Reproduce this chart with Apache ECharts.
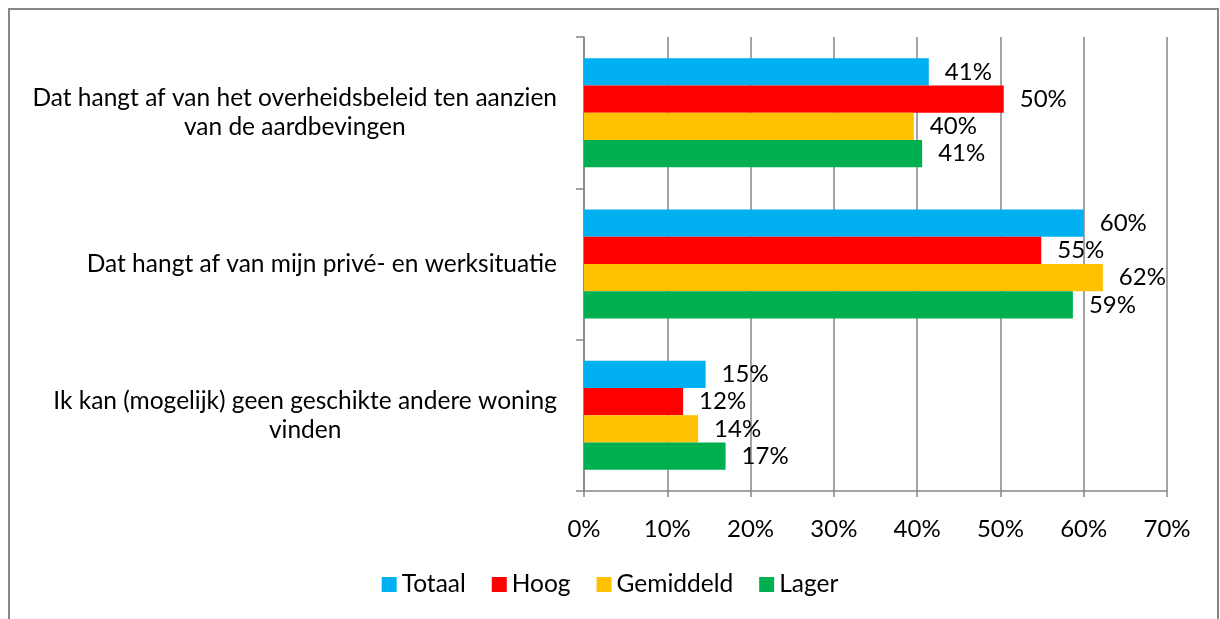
<!DOCTYPE html>
<html>
<head>
<meta charset="utf-8">
<script src="https://cdn.jsdelivr.net/npm/echarts@6/dist/echarts.min.js"></script>
<style>
  html, body { margin: 0; padding: 0; background: #fff; }
  #main { width: 1220px; height: 619px; }
</style>
</head>
<body>
<div id="main"></div>
<script>
// categories (top to bottom)
const categories = [
  'Dat hangt af van het overheidsbeleid ten aanzien\nvan de aardbevingen',
  'Dat hangt af van mijn privé- en werksituatie',
  'Ik kan (mogelijk) geen geschikte andere woning\nvinden'
]
const seriesNames = ['Totaal', 'Hoog', 'Gemiddeld', 'Lager']
const seriesColors = ['#00B0F0', '#FF0000', '#FFC000', '#00B050']

// percentages per series, same order as categories
const totaal = [41.4, 60.0, 14.6]
const hoog = [50.4, 54.9, 11.9]
const gemiddeld = [39.6, 62.3, 13.7]
const lager = [40.6, 58.7, 17.0]

const xTicks = [0, 10, 20, 30, 40, 50, 60, 70]

const font = 'Lato'
const gray = '#868686'

const values = [totaal, hoog, gemiddeld, lager]

const series = seriesNames.map((name, i) => ({
  name: name,
  type: 'bar',
  data: values[i],
  barGap: '0%',
  barCategoryGap: '28%',
  itemStyle: { color: seriesColors[i] },
  label: {
    show: true,
    position: 'right',
    distance: 16,
    color: '#000',
    fontFamily: font,
    fontSize: 24,
    formatter: p => Math.round(p.value) + '%'
  }
}))

const option = {
  animation: false,
  graphic: [{
    type: 'rect',
    shape: { x: 9, y: 9, width: 1209, height: 640 },
    style: { fill: 'none', stroke: gray, lineWidth: 2 }
  }],
  legend: {
    data: seriesNames,
    left: 'center',
    top: 567,
    icon: 'rect',
    itemWidth: 15,
    itemHeight: 15,
    itemGap: 26,
    textStyle: { fontFamily: font, fontSize: 24.5, color: '#000' }
  },
  grid: { left: 584, right: 53, top: 37, bottom: 128 },
  xAxis: {
    type: 'value',
    min: xTicks[0],
    max: xTicks[xTicks.length - 1],
    interval: 10,
    axisLine: { show: true, lineStyle: { color: gray, width: 1.5 } },
    axisTick: { show: true, length: 6, lineStyle: { color: gray, width: 1.5 } },
    splitLine: { show: true, lineStyle: { color: gray, width: 1.5 } },
    axisLabel: {
      margin: 26,
      color: '#000',
      fontFamily: font,
      fontSize: 24,
      formatter: v => v + '%'
    }
  },
  yAxis: {
    type: 'category',
    inverse: true,
    data: categories,
    axisLine: { show: true, lineStyle: { color: gray, width: 1.5 } },
    axisTick: { show: true, length: 8, lineStyle: { color: gray, width: 1.5 } },
    axisLabel: {
      margin: 27,
      formatter: v => v.split('\n').map(s => '{c|' + s + '}').join('\n'),
      rich: {
        c: { align: 'center', color: '#000', fontFamily: font, fontSize: 24.5, lineHeight: 29 }
      }
    }
  },
  series: series
}

const chart = echarts.init(document.getElementById('main'))
chart.setOption(option)
</script>
</body>
</html>
